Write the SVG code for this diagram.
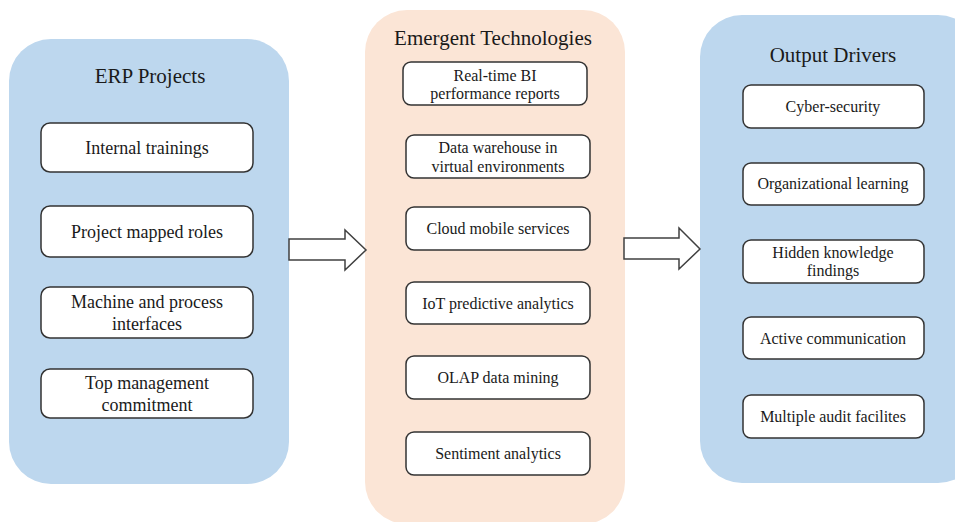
<svg xmlns="http://www.w3.org/2000/svg" width="955" height="522" viewBox="0 0 955 522">
<style>
.panelB{fill:#BDD7EE;}
.panelP{fill:#FBE5D6;}
.box{fill:#FFFFFF;stroke:#333333;stroke-width:1.5;}
.title{font-family:"Liberation Serif",serif;font-size:21px;fill:#1a1a1a;text-anchor:middle;}
.t{font-family:"Liberation Serif",serif;font-size:18px;fill:#1a1a1a;text-anchor:middle;}
.s{font-family:"Liberation Serif",serif;font-size:16px;fill:#1a1a1a;text-anchor:middle;}
.arrow{fill:#FFFFFF;stroke:#404040;stroke-width:1.5;stroke-linejoin:miter;}
</style>
<rect width="955" height="522" fill="#FFFFFF"/>
<g id="erp-projects">
<rect class="panelB" x="9" y="39" width="280" height="445" rx="42"/>
<text class="title" x="150" y="83">ERP Projects</text>
</g>
<g id="internal-trainings">
<rect class="box" x="41" y="123" width="212" height="49" rx="9"/>
<text class="t" x="147" y="154">Internal trainings</text>
</g>
<g id="project-mapped-roles">
<rect class="box" x="41" y="206" width="212" height="51" rx="9"/>
<text class="t" x="147" y="238">Project mapped roles</text>
</g>
<g id="machine-process">
<rect class="box" x="41" y="287" width="212" height="51" rx="9"/>
<text class="t" x="147" y="308">Machine and process</text>
<text class="t" x="147" y="330">interfaces</text>
</g>
<g id="top-management">
<rect class="box" x="41" y="369" width="212" height="49" rx="9"/>
<text class="t" x="147" y="389">Top management</text>
<text class="t" x="147" y="411">commitment</text>
</g>
<g id="emergent-technologies">
<rect class="panelP" x="365" y="10" width="260" height="514" rx="42"/>
<text class="title" x="493" y="45">Emergent Technologies</text>
</g>
<g id="realtime-bi">
<rect class="box" x="403" y="62" width="184" height="43" rx="8"/>
<text class="s" x="495" y="81">Real-time BI</text>
<text class="s" x="495" y="99">performance reports</text>
</g>
<g id="data-warehouse">
<rect class="box" x="406" y="135" width="184" height="43" rx="8"/>
<text class="s" x="498" y="153">Data warehouse in</text>
<text class="s" x="498" y="172">virtual environments</text>
</g>
<g id="cloud-mobile">
<rect class="box" x="406" y="207" width="184" height="43" rx="8"/>
<text class="s" x="498" y="234">Cloud mobile services</text>
</g>
<g id="iot-analytics">
<rect class="box" x="406" y="282" width="184" height="42" rx="8"/>
<text class="s" x="498" y="309">IoT predictive analytics</text>
</g>
<g id="olap">
<rect class="box" x="406" y="356" width="184" height="43" rx="8"/>
<text class="s" x="498" y="383">OLAP data mining</text>
</g>
<g id="sentiment">
<rect class="box" x="406" y="432" width="184" height="43" rx="8"/>
<text class="s" x="498" y="459">Sentiment analytics</text>
</g>
<g id="output-drivers">
<rect class="panelB" x="700" y="15" width="280" height="468" rx="42"/>
<text class="title" x="833" y="62">Output Drivers</text>
</g>
<g id="cyber-security">
<rect class="box" x="743" y="85" width="181" height="43" rx="8"/>
<text class="s" x="833" y="112">Cyber-security</text>
</g>
<g id="org-learning">
<rect class="box" x="743" y="163" width="181" height="42" rx="8"/>
<text class="s" x="833" y="189">Organizational learning</text>
</g>
<g id="hidden-knowledge">
<rect class="box" x="743" y="240" width="181" height="43" rx="8"/>
<text class="s" x="833" y="258">Hidden knowledge</text>
<text class="s" x="833" y="276">findings</text>
</g>
<g id="active-communication">
<rect class="box" x="743" y="317" width="181" height="42" rx="8"/>
<text class="s" x="833" y="344">Active communication</text>
</g>
<g id="audit-facilities">
<rect class="box" x="743" y="395" width="181" height="43" rx="8"/>
<text class="s" x="833" y="422">Multiple audit facilites</text>
</g>
<g id="connectors">
<polygon class="arrow" points="289,239 345,239 345,230 366,250 345,270 345,260 289,260"/>
<polygon class="arrow" points="624,238 679,238 679,228 700,249 679,269 679,259 624,259"/>
</g>
</svg>
